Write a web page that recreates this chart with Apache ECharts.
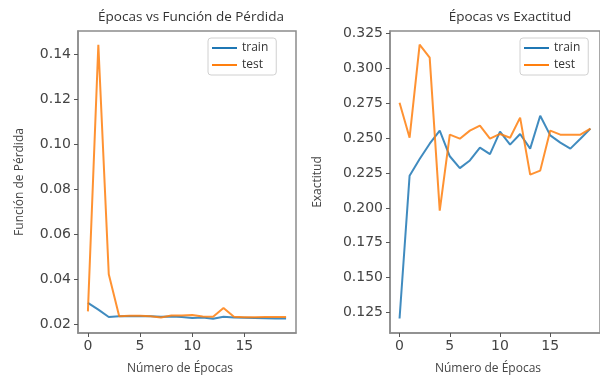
<!DOCTYPE html>
<html><head><meta charset="utf-8">
<script src="https://cdn.jsdelivr.net/npm/echarts@6/dist/echarts.min.js"></script>
<style>html,body{margin:0;padding:0;background:#fff}#c{width:600px;height:381px}</style>
</head><body><div id="c"></div>
<script>
const epochs = [0,1,2,3,4,5,6,7,8,9,10,11,12,13,14,15,16,17,18,19];
const trainLoss = [0.0295,0.0265,0.0232,0.0235,0.0236,0.0235,0.0236,0.0233,0.0234,0.0232,0.0228,0.0230,0.0224,0.0233,0.0230,0.0229,0.0228,0.0227,0.0226,0.0225];
const testLoss  = [0.0257,0.1443,0.0422,0.0235,0.0238,0.0238,0.0236,0.0230,0.0239,0.0239,0.0241,0.0234,0.0233,0.0272,0.0233,0.0231,0.0231,0.0232,0.0232,0.0232];
const trainAcc = [0.1207,0.2231,0.2350,0.2460,0.2554,0.2370,0.2285,0.2340,0.2432,0.2385,0.2547,0.2453,0.2530,0.2425,0.2661,0.2520,0.2468,0.2425,0.2496,0.2568];
const testAcc  = [0.2754,0.2503,0.3170,0.3077,0.1980,0.2525,0.2496,0.2554,0.2590,0.2496,0.2530,0.2503,0.2647,0.2238,0.2267,0.2554,0.2525,0.2525,0.2525,0.2568];
const xTicks = [0,5,10,15];
const lossTicks = [0.02,0.04,0.06,0.08,0.10,0.12,0.14];
const accTicks = [0.125,0.150,0.175,0.200,0.225,0.250,0.275,0.300,0.325];

const BLUE = '#1f77b4', ORANGE = '#ff7f0e';
const FONT = 'DejaVu Sans';
const frame = '#8c8c8c';

function xAxis(gi){
  return {
    type:'value', gridIndex:gi, min:-0.95, max:19.95,
    name:'Número de Épocas', nameLocation:'middle', nameGap:30,
    nameTextStyle:{fontFamily:'Open Sans', fontSize:12, color:'#444', padding:[0,14,0,0]},
    axisLine:{show:true, onZero:false, lineStyle:{color:frame, width:1.5}},
    axisTick:{show:true, length:4, customValues:xTicks, lineStyle:{color:'#555'}},
    axisLabel:{customValues:xTicks, fontFamily:FONT, fontSize:14, color:'#444', margin:6},
    splitLine:{show:false}
  };
}
function yAxis(gi, min, max, ticks, dec, name, gap){
  return {
    type:'value', gridIndex:gi, min:min, max:max,
    name:name, nameLocation:'middle', nameGap:gap, nameRotate:90,
    nameTextStyle:{fontFamily:'Open Sans', fontSize:12, color:'#444'},
    axisLine:{show:true, onZero:false, lineStyle:{color:frame, width:1.5}},
    axisTick:{show:true, length:4, customValues:ticks, lineStyle:{color:'#555'}},
    axisLabel:{customValues:ticks, fontFamily:FONT, fontSize:14, color:'#444', margin:7,
      formatter:v=>v.toFixed(dec)},
    splitLine:{show:false}
  };
}
function series(name, arr, color, xi){
  return {
    name:name, type:'line', xAxisIndex:xi, yAxisIndex:xi,
    data:arr.map((v,i)=>[epochs[i], v]),
    showSymbol:false, symbol:'none',
    lineStyle:{color:color, width:2, opacity:0.85},
    itemStyle:{color:color}, animation:false
  };
}
function legend(left){
  return {
    left:left, top:38, orient:'vertical', data:['train','test'],
    icon:'rect', itemWidth:25, itemHeight:2, itemGap:5,
    borderColor:'#d0d0d0', borderWidth:1, borderRadius:3,
    padding:[4,8,4,4],
    textStyle:{fontFamily:'Open Sans', fontSize:12, color:'#333'}
  };
}
const chart = echarts.init(document.getElementById('c'));
chart.setOption({
  animation:false,
  title:[
    {text:'Épocas vs Función de Pérdida', left:186, top:5, textAlign:'center',
     textStyle:{fontFamily:'Open Sans', fontSize:13.5, fontWeight:'normal', color:'#333'}},
    {text:'Épocas vs Exactitud', left:505, top:5, textAlign:'center',
     textStyle:{fontFamily:'Open Sans', fontSize:13.5, fontWeight:'normal', color:'#333'}}
  ],
  legend:[legend(208), legend(520)],
  grid:[
    {left:78, top:31, width:218, height:302, show:true, borderColor:frame, borderWidth:1.5, backgroundColor:'transparent'},
    {left:390, top:31, width:219, height:302, show:true, borderColor:frame, borderWidth:1.5, backgroundColor:'transparent'}
  ],
  xAxis:[xAxis(0), xAxis(1)],
  yAxis:[
    yAxis(0, 0.0161, 0.1504, lossTicks, 2, 'Función de Pérdida', 52),
    yAxis(1, 0.1103, 0.3268, accTicks, 3, 'Exactitud', 66)
  ],
  series:[
    series('train', trainLoss, BLUE, 0),
    series('test', testLoss, ORANGE, 0),
    series('train', trainAcc, BLUE, 1),
    series('test', testAcc, ORANGE, 1)
  ]
});
</script></body></html>
